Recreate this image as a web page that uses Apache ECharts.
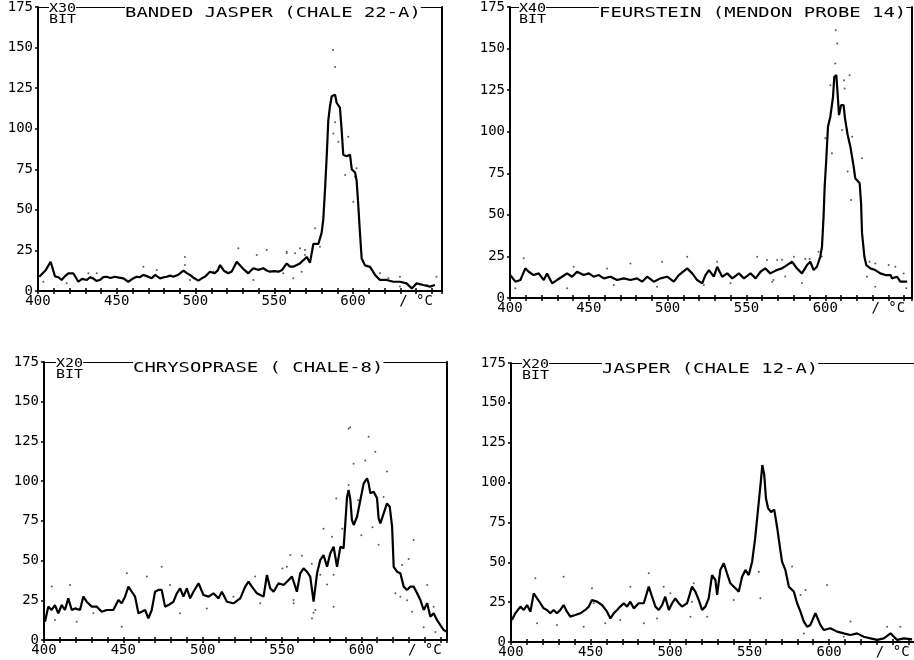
<!DOCTYPE html>
<html>
<head>
<meta charset="utf-8">
<title>DTA</title>
<script src="https://cdn.jsdelivr.net/npm/echarts@6.0.0/dist/echarts.min.js"></script>
<style>
  html, body { margin: 0; padding: 0; background: #fff; }
  #main { width: 914px; height: 660px; }
</style>
</head>
<body>
<div id="main"></div>
<script>
// [temperature °C, signal bit]
var bandedJasper = [
  [400.8, 8.8], [403, 11], [405, 13], [408, 18], [410.8, 9], [413, 8.5], [415, 6.8], [417, 9],
  [419.3, 10.9], [422.4, 10.9], [425.6, 5.7], [428, 7.5], [431, 6.8], [433, 8.5], [435, 7.8],
  [437, 6.2], [439.4, 6.8], [441.5, 8.5], [443.6, 8.8], [446, 8], [448.9, 8.8], [451.5, 8.2],
  [454.2, 7.8], [457.3, 5.7], [460, 7.5], [462.6, 8.8], [464.5, 8.5], [466.9, 9.9], [469.5, 9],
  [472.2, 7.8], [474.3, 9.9], [477.5, 7.8], [480, 8.5], [481.7, 8.8], [484, 9.5], [485.9, 8.8],
  [489, 10], [492.3, 12.5], [494.5, 11], [496.5, 9.9], [499, 8], [501.8, 6.4], [504, 7.8],
  [506, 8.8], [509.2, 11.9], [512, 10.9], [514, 12.5], [515.6, 16], [518, 12.5], [520.8, 10.9],
  [523, 12], [526.2, 18], [528.5, 15.5], [531, 13], [533.5, 10.9], [536.7, 14], [540, 13],
  [543, 14], [545.5, 12.5], [547.3, 11.9], [550, 12.2], [552.6, 11.9], [555, 13], [557.9, 17],
  [560, 15], [562.1, 15], [564.3, 16], [566.3, 17], [568.5, 19], [570.6, 21], [572.7, 17.5],
  [574.8, 29], [578, 29], [580.1, 36], [581.1, 44], [582.2, 62], [583.3, 83], [584.3, 105],
  [585.4, 114], [586.5, 120], [588.6, 121], [589.6, 116], [591.7, 113], [592.8, 99], [593.8, 84],
  [596, 83], [598.1, 84], [599.2, 75], [601.3, 73], [602.3, 68], [603.4, 52], [604.4, 36],
  [605.5, 20], [607.6, 15.8], [610.8, 14.9], [614, 9.9], [617.1, 6.8], [621.4, 6.8], [625.6, 5.7],
  [629.8, 5.7], [634, 4.7], [637.3, 1.6], [640.4, 4.7], [644.6, 3.7], [648.9, 2.7], [652, 3.7]
];
var feuerstein = [
  [400.2, 13.8], [403.4, 9.8], [406.6, 10.8], [409.7, 17.8], [411.9, 15.8], [415, 13.8], [418.2, 14.8],
  [421.4, 10.8], [423.5, 14.8], [426.7, 8.8], [429.8, 10.8], [433, 12.8], [436.2, 14.8], [439.4, 12.8],
  [442.5, 15.8], [446.8, 13.8], [450, 14.8], [453.1, 12.8], [456.3, 13.8], [459.5, 11.8], [463.7, 12.8],
  [467.9, 10.8], [472.2, 11.8], [476.4, 10.8], [480.6, 11.8], [483.8, 9.8], [487, 12.8], [491.2, 9.8],
  [495.4, 11.8], [499.7, 12.8], [503.9, 9.8], [507.1, 13.8], [512.4, 17.8], [515.6, 14.8], [518.7, 10.8],
  [521.9, 8.8], [524, 13.8], [526.2, 16.8], [529.3, 12.8], [531.4, 18.8], [534.6, 12.8], [537.8, 14.8],
  [541, 11.8], [545.2, 14.8], [548.4, 11.8], [552.6, 14.8], [555.8, 11.8], [558.9, 15.8], [561.9, 17.8],
  [565.1, 14.8], [569.3, 16.8], [572.5, 17.8], [575.7, 19.8], [578.9, 21.8], [582, 17.8], [585.2, 14.8],
  [588.4, 19.8], [590.5, 21.8], [592.6, 16.8], [594.7, 18.8], [596.8, 24.8], [597.9, 30.9], [598.9, 48.9],
  [599.6, 66.9], [600.6, 83], [601.7, 103], [603.2, 109], [604.9, 121], [605.7, 133], [607, 134],
  [607.8, 123], [608.7, 110], [610, 116], [611.6, 116], [612.5, 108], [614.2, 98], [615.9, 91],
  [618, 79], [619, 72], [621.8, 69], [622.7, 57], [623.3, 39], [624.8, 24.8], [626, 19.8],
  [628.6, 17.8], [631.7, 16.8], [634.9, 14.8], [638.1, 13.8], [641.5, 13.8], [642.3, 11.8],
  [645.5, 12.8], [647.6, 9.8], [651.9, 9.8]
];
var chrysoprase = [
  [400.6, 11.5], [402.7, 21], [404.8, 18.9], [406.9, 22], [409, 16.8], [411.2, 22], [413.2, 18.9],
  [415.3, 26.2], [417.5, 18.9], [419.6, 19.9], [422.7, 18.9], [424.8, 27.3], [426.9, 24.1], [430.1, 21],
  [433.2, 21], [436.4, 17.8], [439.5, 18.9], [443.7, 18.9], [446.9, 25.2], [449, 23.1], [451.1, 27.3],
  [453.2, 33.6], [455.3, 30.4], [457.4, 27.3], [459.5, 16.8], [461.6, 17.8], [463.7, 18.9], [465.8, 13.6],
  [467.9, 18.9], [470, 30.4], [472.1, 31.5], [474.2, 31.5], [476.3, 21], [478.4, 22], [481.6, 24.1],
  [483.7, 29.4], [485.8, 32.5], [487.9, 27.3], [490, 32.5], [492.1, 26.2], [494.2, 30.4], [497.4, 35.7],
  [500.5, 28.3], [503.7, 27.3], [506.8, 29.4], [510, 26.2], [512.1, 30.4], [515.3, 24.1], [519.4, 23.1],
  [523.7, 26.2], [526.8, 33.6], [528.9, 36.7], [531, 33.6], [534.2, 29.4], [538.4, 27.3], [540.5, 40.9],
  [542.6, 32.5], [544.7, 30.4], [547.8, 35.7], [551, 34.6], [553.1, 36.7], [556.3, 39.9], [559.4, 30.4],
  [561.5, 42], [563.6, 45.1], [565.7, 43], [567.8, 39.9], [569.9, 24.1], [572.1, 42], [574.1, 50.3],
  [576.2, 53.5], [578.4, 46.1], [580.4, 54.5], [582.5, 58.7], [584.7, 46.1], [586.8, 58.7], [588.8, 57.7],
  [589.9, 73.4], [591, 90.2], [592, 94.4], [593.1, 88.1], [594.1, 75.5], [595.2, 72.4], [597.3, 77.6],
  [599.4, 88.1], [601.5, 98.6], [603.6, 101.8], [604.6, 98.6], [605.7, 92.3], [607.8, 93.3], [609.9, 89.2],
  [610.9, 76.6], [612, 73.4], [614.1, 79.7], [616.2, 86], [617.9, 83.9], [619.4, 71.3], [620.4, 46.1],
  [622.5, 43], [624.6, 42], [626.7, 33.6], [628.8, 31.5], [630.9, 33.6], [633, 33.6], [635.2, 29.4],
  [637.2, 25.2], [639.3, 18.9], [641.5, 23.1], [643.5, 14.7], [645.6, 16.8], [647.7, 12.6], [649.8, 9.4],
  [651.9, 6.3], [654, 5.2]
];
var jasper = [
  [400.6, 13.8], [402.7, 18], [405.9, 22.2], [408, 20.1], [410.1, 23.2], [412.2, 19], [414.3, 30.5],
  [416.4, 27.4], [418.5, 24.3], [420.5, 21.1], [422.6, 20.1], [424.7, 18], [426.8, 20.1], [428.9, 18],
  [431, 20.1], [433.1, 23.2], [435.2, 19], [437.3, 15.9], [440.4, 16.9], [443.6, 18], [446.7, 20.1],
  [448.9, 22.2], [450.9, 26.3], [454.1, 25.3], [457.2, 23.2], [460.4, 19], [462.5, 14.8], [464.6, 18],
  [466.7, 20.1], [468.7, 22.2], [470.9, 24.3], [473, 22.2], [475, 25.3], [477.2, 21.1], [480.3, 24.3],
  [483.5, 24.3], [486.6, 34.7], [488.7, 28.4], [490.8, 22.2], [492.9, 20.1], [495, 23.2], [497, 28.4],
  [499.2, 20.1], [501.3, 24.3], [503.3, 27.4], [505.5, 24.3], [507.5, 22.2], [510.7, 24.3], [513.8, 34.7],
  [515.9, 31.6], [518.1, 26.3], [520.1, 20.1], [522.2, 22.2], [524.3, 27.4], [526.4, 42], [528.5, 38.9],
  [529.6, 29.5], [531.6, 45.2], [533.8, 49.4], [535.8, 43.1], [537.9, 36.8], [541.1, 33.7], [543.2, 31.6],
  [545.3, 41], [547.4, 45.2], [549.5, 42], [551.6, 50.4], [553.5, 65], [555.5, 85], [557, 100],
  [558, 111], [559.2, 105], [560.3, 90], [561.6, 84], [563.5, 81.5], [565.5, 83], [567.3, 72],
  [569, 60], [570.4, 50.4], [572.5, 45.2], [574.7, 34.7], [577.8, 31.6], [579.9, 24.3], [582, 19],
  [584.1, 12.8], [586.2, 9.6], [588.2, 10.7], [591.4, 18], [594.5, 10.7], [596.7, 7.5], [600.8, 8.6],
  [605, 6.5], [609.2, 5.4], [613.4, 4.4], [617.6, 5.4], [621.8, 3.3], [626, 2.3], [630.2, 1.3],
  [634.4, 2.3], [638.6, 5.4], [642.8, 1.3], [647, 2.3], [652.2, 1.7]
];

// single raw readings scattered round each curve
var bandedJasperDots = [
  [587.3, 148.5], [588.6, 138], [588.6, 104], [587.5, 97], [590.7, 92], [597, 95], [595, 71.5],
  [602.3, 75.6], [601.3, 70.4], [600.2, 55], [575.9, 38.6], [579, 27.3], [557.9, 23.2], [563.2, 23.2],
  [569.5, 25.3], [567.4, 11.9], [555.7, 10.9], [606.5, 18], [629.8, 8.8], [403.4, 5.7], [418.2, 4.7],
  [432, 10.9], [437.3, 10.9], [466.9, 15], [475.4, 12.9], [493.3, 21], [493.3, 16], [496.5, 6.8],
  [511.3, 11.9], [527.2, 26.3], [538.9, 22.2], [545.2, 25.3], [557.9, 24.2], [566.3, 26.3],
  [569.5, 22.2], [536.7, 6.8], [562.1, 7.8], [617.1, 10.9], [622.4, 7.8], [646.8, 3.7], [653, 8.8],
  [629.8, 2.7]
];
var feuersteinDots = [
  [606.6, 161], [607.6, 153], [611.9, 131], [606.3, 141], [615.4, 134], [603.2, 128], [612.3, 126],
  [600, 96], [610.6, 101], [617, 97], [604.2, 87], [623.3, 84], [614.2, 76], [616.3, 59], [595.7, 27.8],
  [597.8, 25], [563, 22.8], [572.5, 23], [587.3, 23.4], [590, 23.4], [567.2, 10.8], [574.6, 13],
  [585.2, 9], [628.1, 21.8], [631.7, 20.8], [640.2, 19.8], [644.4, 18.8], [631.7, 6.8], [626.4, 12.8],
  [649.7, 14.8], [651.4, 5.8], [408.7, 23.9], [440.4, 18.8], [461.6, 17.8], [476.4, 20.8], [496.5, 21.8],
  [512.4, 24.8], [531.4, 21.8], [556.8, 24.8], [569.5, 22.8], [580.1, 24.8], [403.4, 5.8], [436.2, 5.8],
  [465.8, 7.8], [493.3, 6.8], [523, 7.8], [539.9, 8.8], [566.3, 9.8]
];
var chrysopraseDots = [
  [592, 133], [593, 134], [604.6, 128], [608.8, 118.5], [595.1, 111], [602.5, 113], [616.2, 106],
  [592, 97.5], [584.2, 89], [598, 88], [614, 90], [576.2, 70], [588, 70], [607, 71], [600, 66],
  [581.5, 65], [610.9, 60], [633, 63], [629.8, 51], [555.2, 53.5], [562.5, 53], [568.8, 48], [574.1, 41],
  [582.5, 41], [578.4, 35], [550.2, 45], [557.3, 25.2], [569.9, 17.2], [625.7, 47.2], [621.5, 29.4],
  [624.6, 27.3], [628.8, 25], [635.1, 29.4], [641.5, 34.6], [632, 17.8], [645.6, 21], [639.3, 8],
  [646.7, 5], [404.9, 33.6], [416.4, 34.6], [406.9, 12.6], [420.6, 11.5], [431.1, 16.8], [452.2, 42],
  [449, 8.4], [474.2, 46.1], [464.8, 39.9], [479.5, 34.6], [485.8, 16.8], [502.6, 19.9], [519.4, 27.3],
  [533.1, 39.9], [536.3, 23.1], [553.1, 46.1], [557.3, 23.1], [568.9, 13.6], [571, 18.9], [582.5, 21]
];
var jasperDots = [
  [550.5, 170.6], [415.3, 40], [433.1, 41], [450.9, 33.7], [452, 24.3], [475, 34.7], [486.6, 43.1],
  [496, 34.7], [500.2, 30.5], [514.9, 36.8], [513.8, 25.3], [540.1, 26.3], [523.3, 15.9], [555.8, 44.1],
  [556.8, 27.4], [576.7, 47.3], [582, 29.5], [585.1, 32.6], [598.7, 35.8], [584.1, 5.4], [609.2, 3.3],
  [613.4, 12.8], [636.5, 9.6], [644.8, 9.6], [416.4, 11.7], [428.9, 10.7], [445.7, 9.6], [459.3, 11.7],
  [468.7, 13.8], [483.5, 11.7], [491.8, 14.8], [512.8, 15.9]
];

var titles = ['BANDED JASPER (CHALE 22-A)', 'FEURSTEIN (MENDON PROBE 14)', 'CHRYSOPRASE ( CHALE-8)', 'JASPER (CHALE 12-A)'];
var gains = ['X30', 'X40', 'X20', 'X20'];
var yUnit = 'BIT';
var xTicks = [400, 450, 500, 550, 600];
var xUnit = '/ °C';
var xUnitAt = 640;

var curves = [bandedJasper, feuerstein, chrysoprase, jasper];
var dots = [bandedJasperDots, feuersteinDots, chrysopraseDots, jasperDots];

// plot frames of the four panels
var panels = [
  { left: 38, top: 7, width: 404, height: 284, xMax: 656.5, gainX: 49, titleX: 125, rightBorder: true },
  { left: 510, top: 7, width: 402, height: 291, xMax: 655, gainX: 519, titleX: 599, rightBorder: true },
  { left: 44, top: 362, width: 403, height: 278, xMax: 654, gainX: 56, titleX: 133, rightBorder: true },
  { left: 511, top: 363, width: 404, height: 279, xMax: 654, gainX: 522, titleX: 602, rightBorder: false }
];

var font = '"DejaVu Sans Mono", "Liberation Mono", monospace';
var ink = '#000';

function xLabel(v) {
  var r = Math.round(v);
  if (Math.abs(v - r) > 0.01) return '';
  if (xTicks.indexOf(r) >= 0) return String(r);
  if (r === xUnitAt) return xUnit;
  return '';
}

var grid = [], xAxis = [], yAxis = [], series = [], graphic = [];

panels.forEach(function (p, i) {
  grid.push({ left: p.left, top: p.top, width: p.width, height: p.height, outerBoundsMode: 'none' });

  xAxis.push({
    type: 'value', gridIndex: i, position: 'bottom', min: 400, max: p.xMax, interval: 10,
    axisLine: { show: true, onZero: false, lineStyle: { color: ink, width: 2 } },
    axisTick: { show: true, length: 3, lineStyle: { color: ink, width: 1.5 } },
    axisLabel: { margin: 3, color: ink, fontFamily: font, fontSize: 14, formatter: xLabel },
    splitLine: { show: false }
  });
  // upper half of the "+" tick marks
  xAxis.push({
    type: 'value', gridIndex: i, position: 'bottom', min: 400, max: p.xMax, interval: 10,
    axisLine: { show: false },
    axisTick: { show: true, inside: true, length: 3, lineStyle: { color: ink, width: 1.5 } },
    axisLabel: { show: false },
    splitLine: { show: false }
  });
  // top line of the frame
  xAxis.push({
    type: 'value', gridIndex: i, position: 'top', min: 400, max: p.xMax,
    axisLine: { show: true, onZero: false, lineStyle: { color: ink, width: 1 } },
    axisTick: { show: false }, axisLabel: { show: false }, splitLine: { show: false }
  });

  yAxis.push({
    type: 'value', gridIndex: i, position: 'left', min: 0, max: 175, interval: 25,
    axisLine: { show: true, onZero: false, lineStyle: { color: ink, width: 2 } },
    axisTick: { show: true, length: 3, lineStyle: { color: ink, width: 1.5 } },
    axisLabel: { margin: 5, color: ink, fontFamily: font, fontSize: 14 },
    splitLine: { show: false }
  });
  yAxis.push({
    type: 'value', gridIndex: i, position: 'right', min: 0, max: 175,
    axisLine: { show: p.rightBorder, onZero: false, lineStyle: { color: ink, width: 2 } },
    axisTick: { show: false }, axisLabel: { show: false }, splitLine: { show: false }
  });

  series.push({
    type: 'scatter', xAxisIndex: 3 * i, yAxisIndex: 2 * i, data: dots[i],
    symbolSize: 2, itemStyle: { color: '#333' }, silent: true
  });
  series.push({
    type: 'line', xAxisIndex: 3 * i, yAxisIndex: 2 * i, data: curves[i],
    symbol: 'none', lineStyle: { color: ink, width: 2.2 }, silent: true
  });

  // gain and title sit on the top line and blank it out
  graphic.push({
    type: 'text', x: p.gainX, y: p.top - 4, scaleX: 1.25, z: 100,
    style: { text: gains[i] + '\n' + yUnit, font: '12px ' + font, fill: ink, backgroundColor: '#fff', lineHeight: 11 }
  });
  graphic.push({
    type: 'text', x: p.titleX, y: p.top - 1, scaleX: 1.35, z: 100,
    style: { text: titles[i], font: '14px ' + font, fill: ink, backgroundColor: '#fff' }
  });
});

var chart = echarts.init(document.getElementById('main'));
chart.setOption({
  animation: false,
  backgroundColor: '#fff',
  grid: grid,
  xAxis: xAxis,
  yAxis: yAxis,
  series: series,
  graphic: graphic
});
</script>
</body>
</html>
